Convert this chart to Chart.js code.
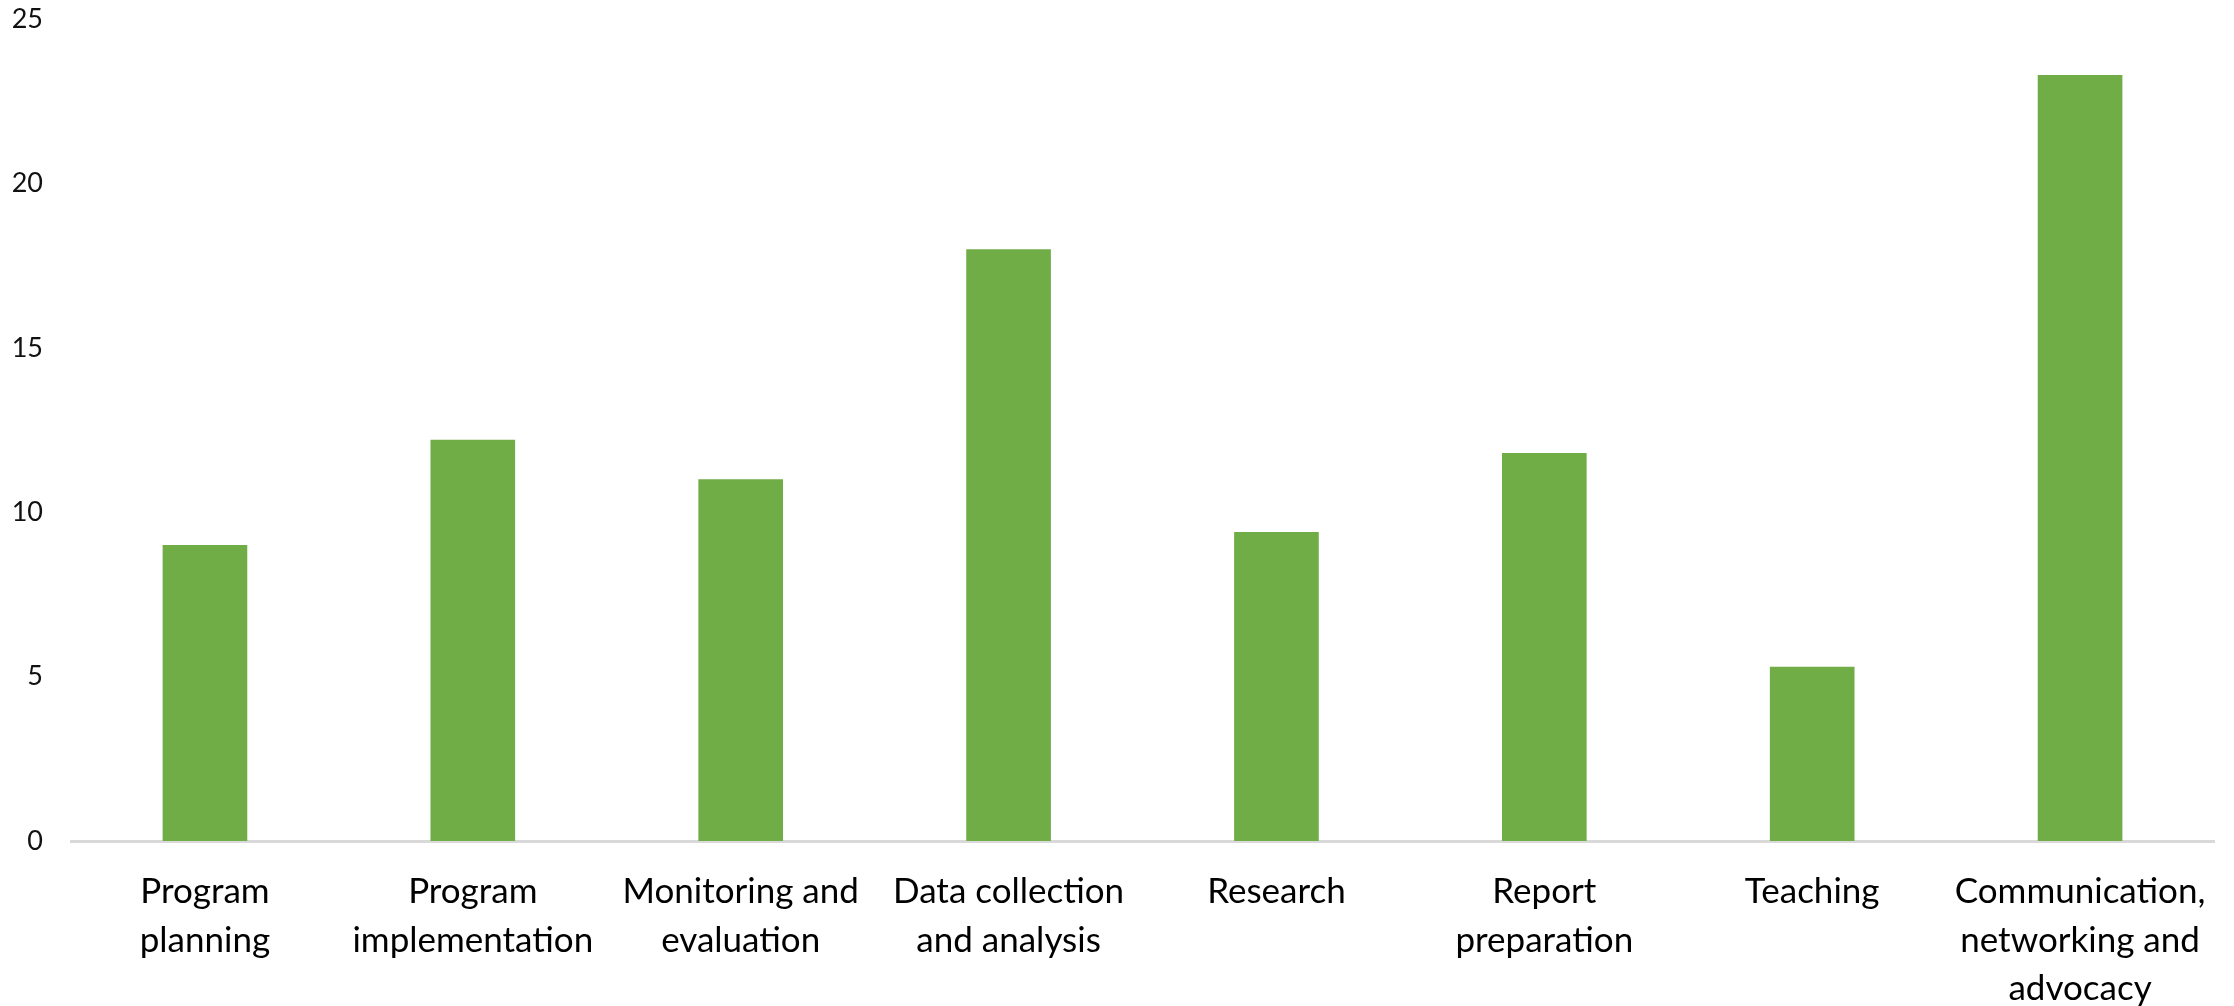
<!DOCTYPE html>
<html>
<head>
<meta charset="utf-8">
<script src="https://cdn.jsdelivr.net/npm/chart.js@4/dist/chart.umd.min.js"></script>
<style>
	html, body { margin: 0; padding: 0; background: #fff; }
	#wrap { width: 2234px; height: 1006px; }
</style>
</head>
<body>
<div id="wrap"><canvas id="barActivities"></canvas></div>
<script>
// categorias (una linea por elemento)
const categories = [
	['Program', 'planning'],
	['Program', 'implementation'],
	['Monitoring and', 'evaluation'],
	['Data collection', 'and analysis'],
	['Research'],
	['Report', 'preparation'],
	['Teaching'],
	['Communication,', 'networking and', 'advocacy']
];
// valores
const values = [9.0, 12.2, 11.0, 18.0, 9.4, 11.8, 5.3, 23.3];
const yMin = 0;
const yMax = 25;
const yStep = 5;

const data = {
	labels: categories,
	datasets: [{
		data: values,
		backgroundColor: '#70AD47',
		categoryPercentage: 1,
		barPercentage: 0.316
	}]
};

const config = {
	type: 'bar',
	data: data,
	options: {
		responsive: true,
		maintainAspectRatio: false,
		animation: false,
		layout: {
			padding: { top: 19, right: 20, bottom: 0, left: 0 }
		},
		plugins: {
			legend: { display: false },
			tooltip: { enabled: false }
		},
		scales: {
			x: {
				grid: { display: false, drawTicks: false },
				border: { display: true, color: '#D9D9D9', width: 3 },
				ticks: {
					color: '#000',
					font: { family: 'Lato', size: 35, lineHeight: 1.38 },
					padding: 27,
					autoSkip: false,
					maxRotation: 0
				},
				afterFit: (scale) => { scale.height = 165 }
			},
			y: {
				min: yMin,
				max: yMax,
				grid: { display: false, drawTicks: false },
				border: { display: false },
				ticks: {
					stepSize: yStep,
					color: '#111',
					font: { family: 'Lato', size: 27 },
					padding: 28
				},
				// ancho fijo y sin margen extra arriba
				afterFit: (scale) => {
					scale.width = 71
					scale.paddingTop = 0
					scale.paddingBottom = 0
				}
			}
		}
	}
};

new Chart(document.getElementById('barActivities'), config);
</script>
</body>
</html>
